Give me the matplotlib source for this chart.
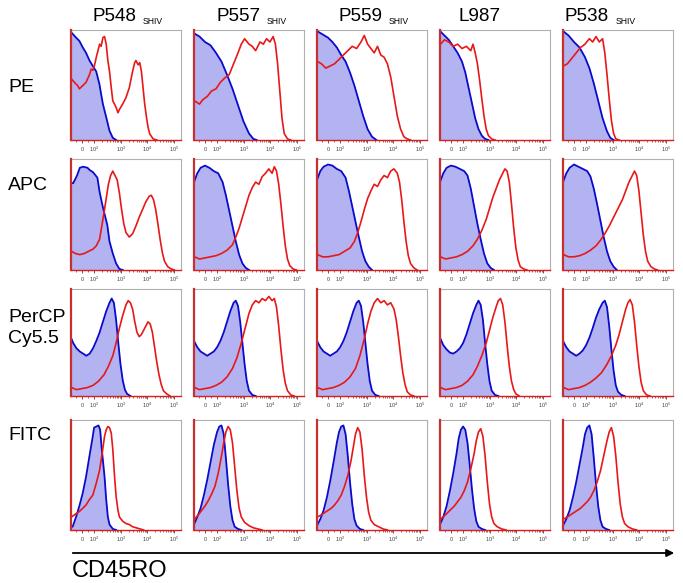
import numpy as np
import matplotlib
matplotlib.use("Agg")
import matplotlib.pyplot as plt
from matplotlib.patches import FancyArrowPatch

plt.rcParams['font.family'] = ['Liberation Sans', 'DejaVu Sans']
plt.rcParams['mathtext.fontset'] = 'custom'
plt.rcParams['mathtext.rm'] = 'Liberation Sans'

# ---------------- labels ----------------
samples = ["P548", "P557", "P559", "L987", "P538"]
sample_sub = ["SHIV", "SHIV", "SHIV", "", "SHIV"]
stains = ["PE", "APC", "PerCP\nCy5.5", "FITC"]
axis_label = "CD45RO"
tick_values = [0, 100, 1000, 10000, 100000]
tick_labels = ["$0$", "$10^2$", "$10^3$", "$10^4$", "$10^5$"]
minor_values = [-50, 50] + [m * 10 ** k for k in (2, 3, 4) for m in range(2, 10)]

# ------- histogram curves: (display channel %, % of mode) -------
# PE row
pe_p548_blue = [(0,99),(1,98),(4.6,94),(7.6,91),(10.7,85),(13.7,80),(16.8,73),(19.8,68),(22.9,63),(25.9,51),(27.4,42),(29,33),(32,21),(35,8.5),(38,2),(41,0)]
pe_p548_red = [(0.5,56),(3,53),(6,50),(7.6,47),(10.7,50),(13.7,53),(16.8,60),(18.3,65),(19.8,64),(21,67),(23,76),(26,88),(27.4,86),(29,94),(30.5,95),(32,88),(33.5,73),(35,63),(36.6,48),(38,36),(41,30),(42.7,25),(44,28),(47,33),(50,39),(53,48),(56,63),(57.9,71),(59,73),(61,69),(62.5,71),(64,63),(65.5,48),(67,33),(68.6,21),(70,12),(71.6,5.5),(74.7,1),(78,0)]
pe_p557_blue = [(0,98),(5,95),(10,90),(15,87),(20,80),(25,72),(30,60),(35,47),(40,32),(45,17),(50,6),(54,1),(57,0)]
pe_p557_red = [(0.5,36),(5,33),(8,37),(12,40),(16,45),(20,47),(24,53),(28,57),(32,60),(36,70),(40,80),(43,88),(46,93),(50,88),(53,86),(56,82),(60,90),(63,88),(66,93),(69,90),(72,95),(74,88),(76,70),(78,45),(80,20),(82,6),(85,1),(88,0)]
pe_p559_blue = [(0,100),(5,97),(10,94),(14,90),(18,85),(22,78),(26,72),(30,62),(34,50),(38,36),(42,22),(46,10),(50,3),(54,0)]
pe_p559_red = [(0.5,72),(4,70),(8,66),(12,68),(16,70),(20,74),(24,78),(28,82),(32,86),(36,84),(40,90),(43,96),(46,88),(49,84),(52,80),(55,86),(58,78),(61,76),(64,70),(67,58),(70,40),(73,22),(76,10),(79,3),(82,1),(85,0)]
pe_l987_blue = [(0,100),(4,96),(8,92),(12,86),(16,80),(20,72),(23,62),(26,48),(29,34),(32,20),(35,10),(38,4),(41,1),(44,0)]
pe_l987_red = [(0.5,88),(4,92),(8,90),(12,86),(16,88),(20,84),(24,86),(28,82),(30,88),(32,80),(34,70),(36,55),(38,38),(40,22),(42,10),(44,4),(47,1),(50,0)]
pe_p538_blue = [(0,100),(5,96),(10,90),(15,85),(20,76),(24,66),(28,52),(32,36),(36,20),(40,8),(43,2),(46,0)]
pe_p538_red = [(0.5,68),(4,70),(8,75),(12,80),(16,85),(20,88),(24,93),(27,90),(30,95),(33,90),(36,93),(38,80),(40,60),(42,38),(44,18),(46,6),(48,1),(51,0)]

# APC row
apc_p548_blue = [(0,79),(2,79),(5.5,86),(8,93),(11,94),(15,93),(17,91),(20,89),(24,84),(26,71),(29,57),(33,41),(35,26),(38,15),(41,6),(44,1),(47,0)]
apc_p548_red = [(0.5,17),(4,15),(8,14),(12,15),(16,17),(20,19),(23,22),(26,28),(28,40),(30,52),(32,65),(34,78),(36,86),(38,90),(40,86),(42,82),(44,70),(46,55),(48,42),(50,34),(53,30),(56,33),(59,40),(62,48),(65,55),(68,62),(71,67),(73,68),(75,64),(77,55),(79,42),(81,28),(83,16),(85,8),(88,3),(91,1),(94,0)]
apc_p557_blue = [(0,80),(3,88),(6,93),(10,95),(14,93),(18,90),(22,88),(26,80),(29,68),(32,54),(35,40),(38,26),(41,14),(44,6),(47,2),(50,0)]
apc_p557_red = [(0.5,12),(5,10),(10,11),(15,12),(20,13),(25,15),(30,18),(35,23),(38,30),(41,38),(44,48),(47,58),(50,68),(53,75),(56,80),(59,78),(62,85),(65,88),(68,92),(71,88),(73,94),(75,90),(77,78),(79,60),(81,40),(83,22),(85,10),(87,4),(90,1),(93,0)]
apc_p559_blue = [(0,82),(3,90),(6,94),(10,96),(14,95),(18,92),(22,90),(26,84),(29,72),(32,58),(35,44),(38,30),(41,17),(44,8),(47,3),(50,0)]
apc_p559_red = [(0.5,14),(5,12),(10,12),(15,13),(20,14),(25,17),(30,20),(34,26),(37,34),(40,44),(43,55),(46,65),(49,72),(52,78),(55,76),(58,82),(61,86),(64,84),(67,90),(70,92),(73,88),(75,80),(77,64),(79,44),(81,26),(83,13),(85,6),(88,2),(91,0)]
apc_l987_blue = [(0,80),(3,88),(6,93),(10,95),(14,94),(18,92),(22,90),(25,86),(28,74),(31,58),(34,42),(37,28),(40,15),(43,6),(46,2),(49,0)]
apc_l987_red = [(0.5,12),(5,10),(10,11),(15,12),(20,14),(25,17),(30,22),(34,28),(38,36),(42,46),(45,56),(48,66),(51,74),(54,82),(57,88),(59,92),(61,90),(63,80),(65,60),(67,38),(69,20),(71,9),(73,3),(76,1),(79,0)]
apc_p538_blue = [(0,80),(3,88),(6,93),(10,96),(14,94),(18,92),(22,90),(25,85),(28,74),(31,60),(34,45),(37,30),(40,17),(43,8),(46,3),(49,0)]
apc_p538_red = [(0.5,14),(5,12),(10,12),(15,13),(20,15),(25,18),(30,22),(34,27),(38,33),(42,40),(46,48),(50,56),(54,64),(57,72),(60,80),(63,86),(65,90),(67,86),(69,72),(71,52),(73,32),(75,17),(77,8),(80,3),(83,1),(86,0)]

# PerCP Cy5.5 row
percp_p548_blue = [(0,55),(2,50),(5,45),(8,42),(11,40),(14,38),(17,40),(20,45),(23,52),(26,60),(29,70),(32,80),(35,88),(37,92),(39,88),(41,72),(43,50),(45,30),(47,15),(49,6),(51,2),(54,0)]
percp_p548_red = [(0.5,8),(5,6),(10,7),(15,8),(20,10),(25,14),(30,20),(34,28),(38,38),(41,50),(44,64),(47,76),(50,86),(52,90),(54,88),(56,82),(58,70),(60,60),(62,56),(64,58),(66,62),(68,66),(70,70),(72,68),(74,60),(76,46),(78,32),(80,20),(82,11),(84,5),(87,2),(90,0)]
percp_p557_blue = [(0,52),(3,46),(6,42),(9,40),(12,38),(15,40),(18,42),(21,46),(24,52),(27,60),(30,70),(33,80),(36,88),(38,90),(40,85),(42,70),(44,50),(46,30),(48,14),(50,5),(53,1),(56,0)]
percp_p557_red = [(0.5,8),(5,6),(10,7),(15,8),(20,10),(25,13),(30,18),(35,26),(39,36),(43,50),(47,66),(50,78),(53,86),(56,90),(59,88),(62,92),(65,90),(68,94),(71,90),(73,92),(75,84),(77,66),(79,44),(81,25),(83,12),(85,5),(88,1),(91,0)]
percp_p559_blue = [(0,52),(3,46),(6,42),(9,40),(12,38),(15,40),(18,42),(21,46),(24,52),(27,60),(30,70),(33,80),(36,88),(38,90),(40,85),(42,70),(44,50),(46,30),(48,14),(50,5),(53,1),(56,0)]
percp_p559_red = [(0.5,8),(5,6),(10,7),(15,8),(20,10),(25,13),(30,18),(35,26),(39,38),(43,54),(46,68),(49,80),(52,88),(55,92),(58,88),(61,90),(64,86),(67,88),(70,82),(72,72),(74,56),(76,38),(78,22),(80,11),(82,4),(85,1),(88,0)]
percp_l987_blue = [(0,55),(3,48),(6,44),(9,41),(12,40),(15,42),(18,45),(21,50),(24,58),(27,68),(30,78),(33,86),(35,90),(37,86),(39,72),(41,50),(43,30),(45,14),(47,5),(50,1),(53,0)]
percp_l987_red = [(0.5,8),(5,6),(10,7),(15,8),(20,10),(25,14),(30,20),(34,28),(38,38),(42,50),(45,62),(48,74),(51,84),(53,90),(55,92),(57,86),(59,70),(61,48),(63,28),(65,14),(67,6),(69,2),(72,0)]
percp_p538_blue = [(0,52),(3,46),(6,42),(9,40),(12,38),(15,40),(18,43),(21,48),(24,55),(27,64),(30,74),(33,82),(36,88),(38,90),(40,84),(42,66),(44,44),(46,24),(48,10),(50,4),(53,1),(56,0)]
percp_p538_red = [(0.5,8),(5,6),(10,7),(15,8),(20,10),(25,13),(30,17),(35,22),(40,30),(44,38),(48,48),(51,58),(54,70),(57,82),(59,88),(61,91),(63,86),(65,70),(67,48),(69,28),(71,13),(73,5),(76,1),(79,0)]

# FITC row
fitc_p548_blue = [(0,3),(1.5,3),(4.6,12),(7.6,22),(10.7,34),(13.7,49),(16.8,68),(19.8,86),(21,94),(23,95),(25,96),(26.5,92),(28,74),(30.5,49),(32,28),(33.5,12),(35,5),(38,1),(41,0)]
fitc_p548_red = [(0.5,12),(4.6,15),(7.6,17),(10.7,20),(13.7,23),(16.8,28),(19.8,32),(23,43),(26,55),(28,68),(30.5,86),(32,92),(33.5,95),(35,94),(36.6,89),(38,74),(39.6,49),(41,31),(42.7,18),(44,12),(47,8),(50,6),(53,5),(56,3),(61,1.5),(66,0)]
fitc_p557_blue = [(0,5),(3,12),(6,20),(9,32),(12,46),(15,62),(18,78),(21,90),(23,95),(25,96),(27,88),(29,66),(31,42),(33,22),(35,9),(37,3),(40,1),(43,0)]
fitc_p557_red = [(0.5,10),(4,14),(7,18),(10,22),(13,27),(16,33),(19,40),(22,52),(25,68),(27,80),(29,90),(31,95),(33,92),(35,80),(37,58),(39,36),(41,20),(43,12),(46,7),(50,4),(54,2),(58,1),(62,0)]
fitc_p559_blue = [(0,4),(3,10),(6,18),(9,30),(12,45),(15,62),(18,80),(20,90),(22,95),(24,96),(26,88),(28,68),(30,44),(32,24),(34,10),(36,4),(39,1),(42,0)]
fitc_p559_red = [(0.5,12),(4,14),(7,16),(10,18),(13,20),(16,23),(19,27),(22,32),(25,40),(28,50),(31,64),(33,76),(35,88),(37,94),(39,90),(41,74),(43,50),(45,30),(47,16),(49,9),(52,5),(56,3),(60,1),(64,0)]
fitc_l987_blue = [(0,5),(3,12),(6,22),(9,36),(12,52),(15,70),(17,84),(19,92),(21,95),(23,92),(25,80),(27,60),(29,38),(31,20),(33,8),(35,3),(38,1),(41,0)]
fitc_l987_red = [(0.5,10),(4,13),(7,16),(10,19),(13,22),(16,26),(19,30),(22,36),(25,44),(28,56),(31,70),(33,82),(35,90),(37,93),(39,86),(41,68),(43,44),(45,24),(47,12),(49,6),(52,3),(56,1),(60,0)]
fitc_p538_blue = [(0,4),(3,10),(6,18),(9,30),(12,44),(15,60),(18,76),(20,88),(22,94),(24,96),(26,88),(28,66),(30,42),(32,22),(34,9),(36,3),(39,1),(42,0)]
fitc_p538_red = [(0.5,10),(4,12),(7,14),(10,16),(13,18),(16,20),(19,23),(22,26),(25,30),(28,36),(31,44),(34,54),(37,68),(40,82),(42,90),(44,94),(46,86),(48,68),(50,44),(52,24),(54,12),(56,6),(59,3),(63,1),(67,0)]

curves = [
    [(pe_p548_blue, pe_p548_red), (pe_p557_blue, pe_p557_red), (pe_p559_blue, pe_p559_red), (pe_l987_blue, pe_l987_red), (pe_p538_blue, pe_p538_red)],
    [(apc_p548_blue, apc_p548_red), (apc_p557_blue, apc_p557_red), (apc_p559_blue, apc_p559_red), (apc_l987_blue, apc_l987_red), (apc_p538_blue, apc_p538_red)],
    [(percp_p548_blue, percp_p548_red), (percp_p557_blue, percp_p557_red), (percp_p559_blue, percp_p559_red), (percp_l987_blue, percp_l987_red), (percp_p538_blue, percp_p538_red)],
    [(fitc_p548_blue, fitc_p548_red), (fitc_p557_blue, fitc_p557_red), (fitc_p559_blue, fitc_p559_red), (fitc_l987_blue, fitc_l987_red), (fitc_p538_blue, fitc_p538_red)],
]

# ---------------- display transform (logicle-like) ----------------
def chan(v):
    v = np.asarray(v, dtype=float)
    return np.where(v < 100, 10 + 11 * v / 100, 21 + 24.2 * (np.log10(np.maximum(v, 100)) - 2))

# ---------------- layout ----------------
W, H = 683, 583
fig = plt.figure(figsize=(W / 100, H / 100), dpi=100)
col_left = [71, 194, 317, 440, 563]
panel_w = 110
row_top = [30, 159, 289, 420]
row_bot = [140, 270, 396, 530]
header_x = [92, 216, 338, 458, 565]
label_y = [88, 186, 328, 436]

BLUE = "#0a0acc"
FILL = "#b3b3f2"
RED = "#e81818"

for r in range(4):
    for c in range(5):
        x0 = col_left[c] / W
        y0 = 1 - row_bot[r] / H
        ax = fig.add_axes([x0, y0, panel_w / W, (row_bot[r] - row_top[r]) / H])
        blue, red = curves[r][c]
        b = np.array(blue, dtype=float)
        rd = np.array(red, dtype=float)
        ax.fill_between(b[:, 0], 0, b[:, 1], color=FILL, lw=0, zorder=1)
        ax.plot(b[:, 0], b[:, 1], color=BLUE, lw=1.3, zorder=3)
        ax.plot(rd[:, 0], rd[:, 1], color=RED, lw=1.2, zorder=4)
        ax.set_xlim(0, 100)
        ax.set_ylim(0, 101)
        ax.set_yticks([])
        ax.set_xticks(chan(tick_values))
        ax.set_xticklabels(tick_labels)
        ax.set_xticks(chan(minor_values), minor=True)
        ax.tick_params(axis='x', which='major', length=2.5, width=0.6, pad=1.2,
                       labelsize=4, colors='#444444')
        ax.tick_params(axis='x', which='minor', length=1.5, width=0.5, colors='#444444')
        for s in ("top", "right"):
            ax.spines[s].set_color("#b0b0b0")
            ax.spines[s].set_linewidth(0.8)
        ax.spines["left"].set_color("#c83030")
        ax.spines["left"].set_linewidth(1.6)
        ax.spines["bottom"].set_color(RED)
        ax.spines["bottom"].set_linewidth(1.0)
        ax.spines["left"].set_zorder(5)

# column headers
for c in range(5):
    fig.text(header_x[c] / W, 1 - 21 / H, samples[c], fontsize=13.6,
             ha='left', va='baseline')
    if sample_sub[c]:
        fig.text(header_x[c] / W + 51 / W, 1 - 24 / H, sample_sub[c],
                 fontsize=6.2, ha='left', va='baseline')

# row labels
for r in range(4):
    fig.text(8 / W, 1 - label_y[r] / H, stains[r], fontsize=14, ha='left',
             va='center', linespacing=1.3)

# axis arrow and label
arrow = FancyArrowPatch((70 / W, 1 - 553 / H), (677 / W, 1 - 553 / H),
                        transform=fig.transFigure, arrowstyle='-|>',
                        mutation_scale=11, lw=1.3, color='black')
fig.add_artist(arrow)
fig.text(72 / W, 1 - 571 / H, axis_label, fontsize=17, ha='left', va='center')

fig.savefig("out.png", dpi=100)
